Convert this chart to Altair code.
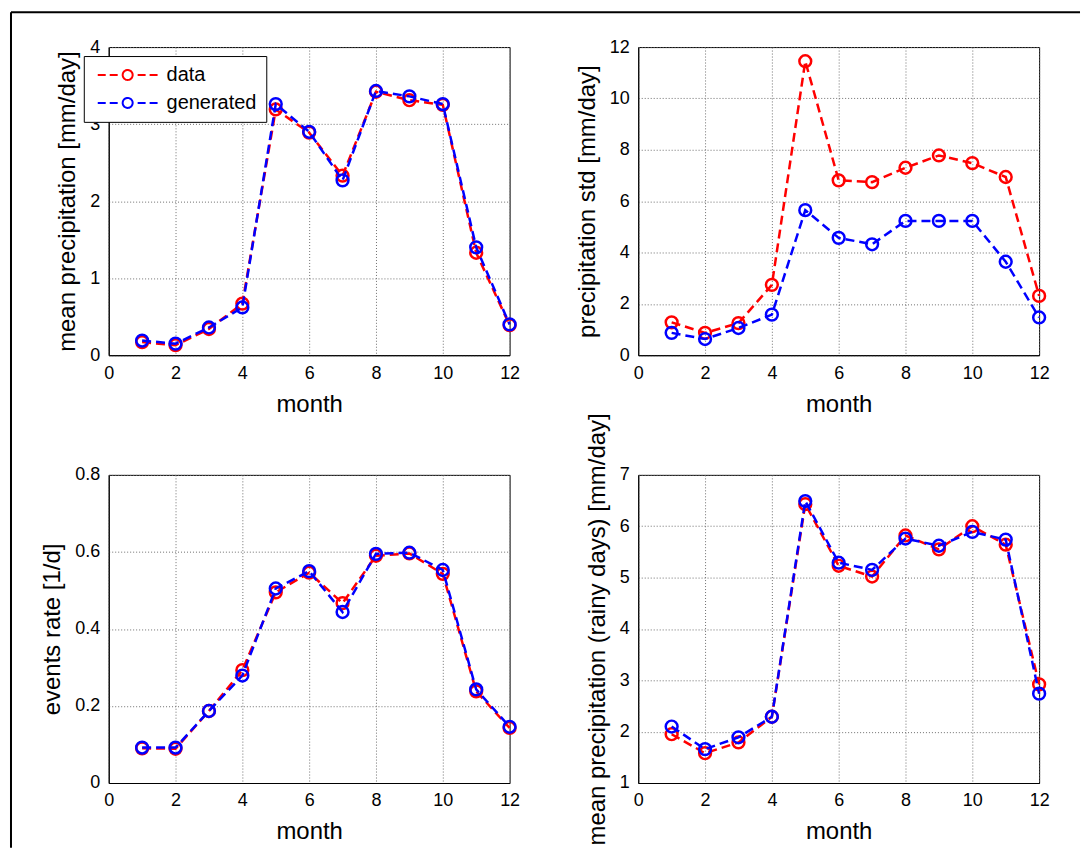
import altair as alt
import pandas as pd

months = list(range(1, 13))
series_names = ["data", "generated"]
series_colors = ["#FF0000", "#0000FF"]

x_ticks = [0, 2, 4, 6, 8, 10, 12]

mean_data = [0.17, 0.13, 0.34, 0.67, 3.19, 2.89, 2.33, 3.42, 3.31, 3.25, 1.33, 0.39]
mean_gen = [0.19, 0.15, 0.36, 0.62, 3.26, 2.90, 2.27, 3.43, 3.36, 3.26, 1.40, 0.40]
mean_ticks = [0, 1, 2, 3, 4]

std_data = [1.28, 0.87, 1.25, 2.74, 11.45, 6.81, 6.74, 7.30, 7.78, 7.48, 6.94, 2.31]
std_gen = [0.87, 0.63, 1.06, 1.58, 5.65, 4.57, 4.32, 5.23, 5.23, 5.23, 3.64, 1.47]
std_ticks = [0, 2, 4, 6, 8, 10, 12]

rate_data = [0.090, 0.089, 0.187, 0.293, 0.495, 0.546, 0.467, 0.590, 0.596, 0.543, 0.238, 0.143]
rate_gen = [0.092, 0.092, 0.187, 0.279, 0.505, 0.550, 0.444, 0.595, 0.598, 0.553, 0.243, 0.146]
rate_ticks = [0, 0.2, 0.4, 0.6, 0.8]

rainy_data = [1.95, 1.58, 1.79, 2.29, 6.43, 5.23, 5.02, 5.82, 5.55, 6.00, 5.64, 2.92]
rainy_gen = [2.10, 1.66, 1.89, 2.29, 6.49, 5.29, 5.15, 5.76, 5.62, 5.89, 5.74, 2.74]
rainy_ticks = [1, 2, 3, 4, 5, 6, 7]

FONT = "Liberation Sans"

LEGEND_SYMBOL = (
    "M-6,0H-4.4M-3.6,0H-2"
    "M-1,0A1,1 0 1,1 1,0A1,1 0 1,1 -1,0"
    "M2,0H3.6M4.4,0H6"
)


def panel(d_vals, g_vals, ytitle, ydomain, yticks, show_legend=False):
    df = pd.DataFrame({
        "month": months * 2,
        "value": d_vals + g_vals,
        "series": [series_names[0]] * 12 + [series_names[1]] * 12,
    })
    x = alt.X("month:Q", scale=alt.Scale(domain=[0, 12], nice=False, zero=False),
              axis=alt.Axis(values=x_ticks, title="month"))
    y = alt.Y("value:Q", scale=alt.Scale(domain=ydomain, nice=False, zero=False),
              axis=alt.Axis(values=yticks, title=ytitle, format="~g"))
    if show_legend:
        legend = alt.Legend(
            title=None, orient="none", legendX=-25, legendY=9,
            symbolType=LEGEND_SYMBOL, symbolSize=100, symbolStrokeWidth=2,
            symbolDash=[1, 0], symbolFillColor="transparent", symbolOffset=25,
            labelOffset=29, labelFont=FONT, labelFontSize=20, labelColor="black",
            padding=9, rowPadding=8, strokeColor="black", fillColor="white",
        )
    else:
        legend = None
    color = alt.Color("series:N", scale=alt.Scale(domain=series_names, range=series_colors),
                      legend=legend)
    layers = []
    if show_legend:
        # figure frame (top and left edges), as in the exported figure
        frame = alt.Chart(pd.DataFrame({"f": [0]}))
        layers.append(frame.mark_rule(color="black", strokeWidth=2, clip=False).encode(
            x=alt.value(-98), x2=alt.value(974), y=alt.value(-35)))
        layers.append(frame.mark_rule(color="black", strokeWidth=2, clip=False).encode(
            x=alt.value(-98), y=alt.value(-35), y2=alt.value(803)))
    for s in series_names:
        base = alt.Chart(df).transform_filter(alt.datum.series == s)
        line = base.mark_line(strokeDash=[9, 5], strokeWidth=2.5, clip=False).encode(
            x=x, y=y, color=color)
        pts = base.mark_point(shape="circle", filled=False, size=140, strokeWidth=2.5,
                              opacity=1, clip=False).encode(x=x, y=y, color=color)
        layers += [line, pts]
    return alt.layer(*layers).properties(width=402, height=309)


p1 = panel(mean_data, mean_gen, "mean precipitation [mm/day]", [0, 4], mean_ticks, True)
p2 = panel(std_data, std_gen, "precipitation std [mm/day]", [0, 12], std_ticks)
p3 = panel(rate_data, rate_gen, "events rate [1/d]", [0, 0.8], rate_ticks)
p4 = panel(rainy_data, rainy_gen, "mean precipitation (rainy days) [mm/day]", [1, 7], rainy_ticks)

chart = alt.concat(
    p1, p2, p3, p4, columns=2, spacing={"row": 120, "column": 129}, bounds="flush"
).resolve_scale(
    color="independent"
).properties(
    padding={"left": 1, "top": 1, "right": 1, "bottom": 1},
    background="white",
).configure_view(
    stroke="black", strokeWidth=1
).configure_axis(
    labelFont=FONT, labelFontSize=18, labelColor="black",
    titleFont=FONT, titleFontSize=24, titleFontWeight="normal", titleColor="black",
    domainColor="black", domainWidth=1,
    grid=True, gridColor="#6e6e6e", gridDash=[1, 2], gridWidth=1, gridOpacity=1,
    ticks=False, labelPadding=9, labelFlush=False,
).configure_axisX(
    titlePadding=10
).configure_axisY(
    titlePadding=10
)

chart.save("out.html", embed_options={"renderer": "svg", "actions": False})
